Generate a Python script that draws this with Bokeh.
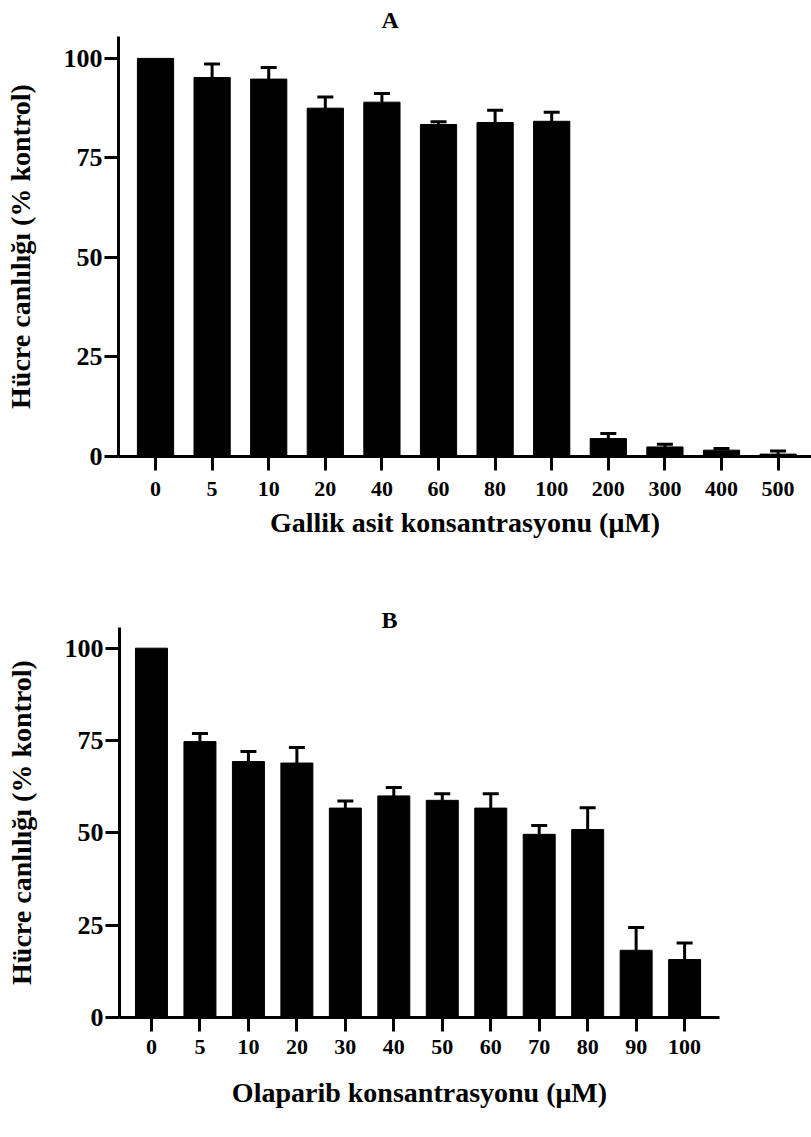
from bokeh.plotting import figure
from bokeh.models import Range1d, FixedTicker, ColumnDataSource, Whisker, TeeHead, Title
from bokeh.embed import file_html
from bokeh.resources import INLINE

# ---- data ----
cats_a = ["0", "5", "10", "20", "40", "60", "80", "100", "200", "300", "400", "500"]
vals_a = [100, 95.2, 94.8, 87.5, 89.0, 83.4, 83.9, 84.2, 4.5, 2.4, 1.6, 0.6]
err_a = [0, 3.4, 2.9, 2.8, 2.2, 0.7, 3.1, 2.3, 1.3, 0.7, 0.4, 0.8]

cats_b = ["0", "5", "10", "20", "30", "40", "50", "60", "70", "80", "90", "100"]
vals_b = [100, 74.7, 69.3, 68.9, 56.7, 60.0, 58.8, 56.7, 49.6, 50.9, 18.2, 15.7]
err_b = [0, 2.2, 2.7, 4.2, 1.9, 2.3, 1.8, 3.9, 2.4, 5.9, 6.2, 4.5]

y_ticks = [0, 25, 50, 75, 100]
y_title = "Hücre canlılığı (% kontrol)"
x_title_a = "Gallik asit konsantrasyonu (μM)"
x_title_b = "Olaparib konsantrasyonu (μM)"

FONT = "Liberation Serif"


def panel(cats, vals, errs, letter, x_title, width, height, x_range, y_range,
          mb_left, mb_right, mb_top, mb_bottom, bar_w, t_offset, t_standoff,
          xtick_standoff, xlab_standoff):
    p = figure(width=width, height=height, output_backend="svg", toolbar_location=None,
               x_range=Range1d(*x_range), y_range=Range1d(*y_range),
               min_border_left=mb_left, min_border_right=mb_right,
               min_border_top=mb_top, min_border_bottom=mb_bottom)
    p.title = Title(text=letter, align="left", offset=t_offset, standoff=t_standoff,
                    text_font=FONT, text_font_style="bold", text_font_size="24px",
                    text_color="black")
    p.outline_line_color = None
    p.grid.visible = False
    xs = list(range(len(cats)))
    p.vbar(x=xs, top=vals, width=bar_w, bottom=0, fill_color="black", line_color="black")
    wx = [x for x, e in zip(xs, errs) if e > 0]
    wl = [v for v, e in zip(vals, errs) if e > 0]
    wu = [v + e for v, e in zip(vals, errs) if e > 0]
    src = ColumnDataSource(dict(x=wx, lower=wl, upper=wu))
    w = Whisker(source=src, base="x", lower="lower", upper="upper", dimension="height",
                line_width=3, line_color="black",
                upper_head=TeeHead(size=16, line_width=3, line_color="black"), lower_head=None)
    p.add_layout(w)

    for ax in (p.xaxis[0], p.yaxis[0]):
        ax.axis_line_width = 3
        ax.axis_line_color = "black"
        ax.major_tick_line_width = 3
        ax.major_tick_line_color = "black"
        ax.major_tick_out = 14
        ax.major_tick_in = 0
        ax.minor_tick_line_color = None
        ax.major_label_text_font = FONT
        ax.major_label_text_font_style = "bold"
        ax.major_label_text_color = "black"
        ax.axis_label_text_font = FONT
        ax.axis_label_text_font_style = "bold"
        ax.axis_label_text_color = "black"
        ax.axis_label_text_font_size = "28px"

    p.xaxis.ticker = FixedTicker(ticks=xs)
    p.xaxis.major_label_overrides = {i: c for i, c in enumerate(cats)}
    p.xaxis.major_label_text_font_size = "22px"
    p.xaxis.major_label_standoff = xtick_standoff
    p.xaxis.axis_label = x_title
    p.xaxis.axis_label_standoff = xlab_standoff

    p.yaxis.ticker = FixedTicker(ticks=y_ticks)
    p.yaxis.major_label_text_font_size = "26px"
    p.yaxis.major_label_standoff = 2
    p.yaxis.axis_label = y_title
    p.yaxis.axis_label_standoff = 25
    return p


pa = panel(cats_a, vals_a, err_a, "A", x_title_a, 811, 580,
           (-0.654, 11.59), (0, 105.5), 118, 0, 35, 124, 0.64, 263, 8, 11, 8)
pb = panel(cats_b, vals_b, err_b, "B", x_title_b, 811, 557,
           (-0.66, 11.72), (0, 105.6), 119, 92, 47, 120, 0.66, 262, -10, 8, 20)

open("out.html", "w").write(file_html([pa, pb], INLINE))
